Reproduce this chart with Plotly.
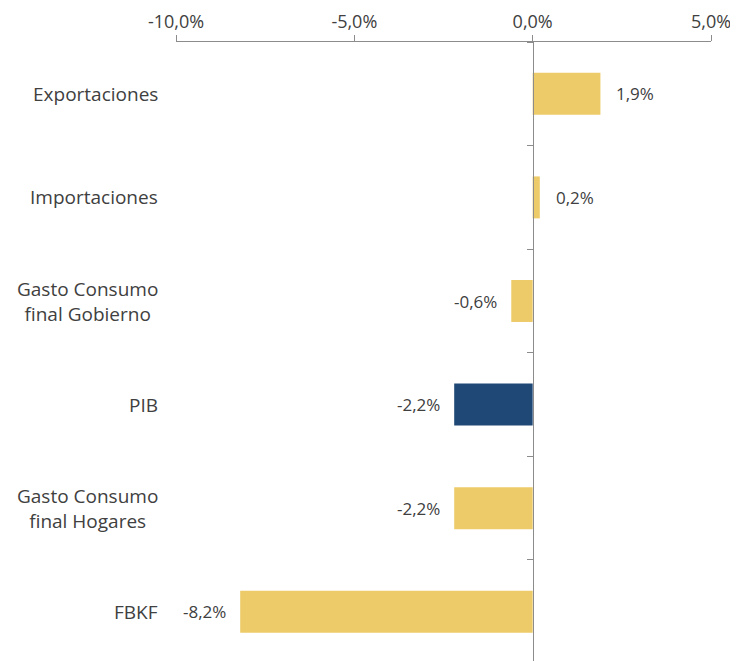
import plotly.graph_objects as go

categorias = ["Exportaciones", "Importaciones", "Gasto Consumo<br>final Gobierno",
              "PIB", "Gasto Consumo<br>final Hogares", "FBKF"]
variacion = [1.9, 0.2, -0.6, -2.2, -2.2, -8.2]
colores = ["#EECB69", "#EECB69", "#EECB69", "#1F4876", "#EECB69", "#EECB69"]
ticks_x = [-10, -5, 0, 5]

gris = "#404040"
fuente = "Open Sans"

fig = go.Figure()
fig.add_trace(go.Bar(x=variacion, y=categorias, orientation="h",
                     marker=dict(color=colores, line=dict(width=0)),
                     hoverinfo="skip"))

# etiquetas de valor
for cat, v in zip(categorias, variacion):
    txt = f"{v:.1f}".replace(".", ",") + "%"
    fig.add_annotation(x=v, y=cat, text=txt, showarrow=False,
                       xanchor="left" if v >= 0 else "right",
                       xshift=14 if v >= 0 else -12,
                       font=dict(size=17, color=gris, family=fuente))

# nombres de categorias
for cat in categorias:
    fig.add_annotation(x=0, xref="paper", xshift=-16, y=cat, yref="y", text=cat,
                       showarrow=False, xanchor="right", align="center",
                       font=dict(size=19, color=gris, family=fuente))

fig.update_layout(
    width=730, height=653,
    margin=dict(l=168, r=27, t=34, b=0),
    plot_bgcolor="white", paper_bgcolor="white",
    showlegend=False, bargap=0.595,
    font=dict(family=fuente, size=17, color=gris),
    xaxis=dict(side="top", range=[-10, 5], tickvals=ticks_x,
               ticktext=[f"{t:.1f}".replace(".", ",") + "%" for t in ticks_x],
               showgrid=False, zeroline=False, showline=True,
               linecolor="#8C8C8C", linewidth=1.3,
               ticks="outside", ticklen=6, tickcolor="#8C8C8C", tickwidth=1.3,
               tickfont=dict(size=18, color=gris, family=fuente)),
    yaxis=dict(categoryorder="array", categoryarray=categorias,
               range=[5.475, -0.5], anchor="free", position=2 / 3,
               showgrid=False, zeroline=False, showline=True,
               linecolor="#8C8C8C", linewidth=1.3,
               ticks="outside", tickson="boundaries", ticklen=6,
               tickcolor="#8C8C8C", tickwidth=1.3, showticklabels=False),
)

fig.write_html("out.html")
